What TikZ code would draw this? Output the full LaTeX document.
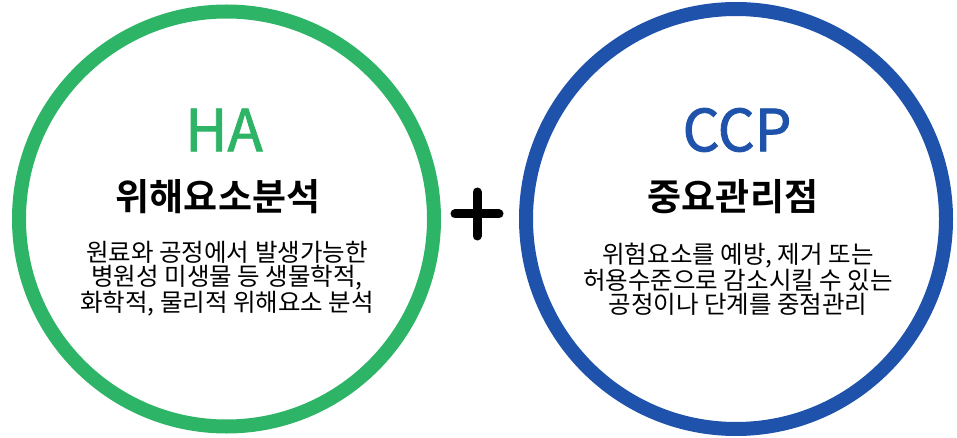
\documentclass[tikz,border=0pt]{standalone}
\usepackage{fontspec}
\setmainfont{Noto Sans CJK KR}
\newfontfamily\krb{Noto Sans CJK KR Bold}
\newfontfamily\krm[FakeBold=1.5]{Noto Sans CJK KR}
\definecolor{hagreen}{HTML}{2EB466}
\definecolor{ccpblue}{HTML}{1F52AA}
\begin{document}
\begin{tikzpicture}[x=1pt,y=-1pt,
  ring/.style={line width=14pt},
  big/.style={font=\krm\fontsize{58}{62}\selectfont},
  ttl/.style={font=\krb\fontsize{37}{40}\selectfont},
  body/.style={align=center,font=\fontsize{24.5}{24.3}\selectfont}]
\useasboundingbox (0,0) rectangle (957,438);
\draw[ring,hagreen] (226.5,219) circle (207.5) coordinate (lc);
\draw[ring,ccpblue] (736,219) circle (210) coordinate (rc);
\node[big,text=hagreen] (ha) at (224,130) {HA};
\node[ttl] (hat) at (218,197) {위해요소분석};
\node[body] (hab) at (227,279) {원료와 공정에서 발생가능한\\병원성 미생물 등 생물학적,\\화학적, 물리적 위해요소 분석};
\node[big,text=ccpblue] (ccp) at (737,130) {CCP};
\node[ttl] (ccpt) at (733,197) {중요관리점};
\node[body] (ccpb) at (738,279) {위험요소를 예방, 제거 또는\\허용수준으로 감소시킬 수 있는\\공정이나 단계를 중점관리};
\coordinate (p) at (477,214);
\draw[line width=9pt,line cap=round] ([xshift=-22pt]p) -- ([xshift=22pt]p);
\draw[line width=9pt,line cap=round] ([yshift=-22pt]p) -- ([yshift=22pt]p);
\end{tikzpicture}
\end{document}
